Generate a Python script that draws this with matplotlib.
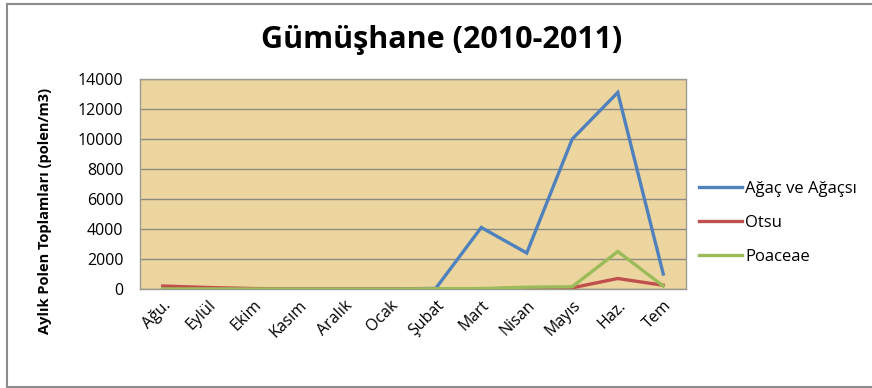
import matplotlib.pyplot as plt
from matplotlib.lines import Line2D

# Aylık polen toplamları, Gümüşhane 2010-2011
aylar = ["Ağu.", "Eylül", "Ekim", "Kasım", "Aralık", "Ocak", "Şubat",
         "Mart", "Nisan", "Mayıs", "Haz.", "Tem"]
agac = [10, 5, 5, 0, 0, 0, 40, 4100, 2400, 10000, 13100, 1000]
otsu = [200, 100, 30, 5, 0, 0, 0, 10, 40, 80, 700, 250]
poaceae = [5, 5, 5, 0, 0, 0, 20, 30, 120, 150, 2500, 200]

seriler = [("Ağaç ve Ağaçsı", agac, "#4F81BD"),
           ("Otsu", otsu, "#C0504D"),
           ("Poaceae", poaceae, "#9BBB59")]

plt.rcParams['font.family'] = ['Open Sans', 'DejaVu Sans']

fig = plt.figure(figsize=(8.72, 3.88), dpi=100)
W, H = 872, 388

# chart area frame
for xs, ys in [([7, 7], [4, 387]), ([7, 872], [4, 4]), ([7, 872], [387, 387])]:
    fig.add_artist(Line2D([x / W for x in xs], [1 - y / H for y in ys],
                          color="#8c8c8c", lw=1.5))

ax = fig.add_axes([140 / W, 1 - 289 / H, 546 / W, 210 / H])
ax.set_facecolor("#EDD5A0")
x = range(len(aylar))
for ad, veri, renk in seriler:
    ax.plot(x, veri, color=renk, lw=2.4, solid_joinstyle="miter", label=ad, zorder=3)

ax.set_xlim(-0.5, len(aylar) - 0.5)
ax.set_ylim(0, 14000)
ax.set_yticks(range(0, 14001, 2000))
ax.yaxis.grid(True, color="#8a8a80", lw=1)
ax.set_axisbelow(True)
ax.set_xticks(list(x))
ax.set_xticklabels(aylar, rotation=45, ha="right", rotation_mode="anchor")
ax.tick_params(axis="both", length=0, labelsize=11.5)
ax.tick_params(axis="y", pad=12)
ax.tick_params(axis="x", pad=6)
for s in ax.spines.values():
    s.set_color("#9a9a90")
    s.set_linewidth(1)

fig.text(442 / W, 1 - 40 / H, "Gümüşhane (2010-2011)", ha="center", va="center",
         fontsize=22, fontweight="bold")
fig.text(45 / W, 1 - 211 / H, "Aylık Polen Toplamları (polen/m3)", rotation=90,
         ha="center", va="center", fontsize=10.5, fontweight="bold")

ax.legend(loc="upper left", bbox_to_anchor=(692 / W, 1 - 174 / H),
          bbox_transform=fig.transFigure, frameon=False, fontsize=12,
          handlelength=2.6, handletextpad=0.2, labelspacing=1.1,
          borderaxespad=0)

fig.savefig("out.png", dpi=100, facecolor="white")
